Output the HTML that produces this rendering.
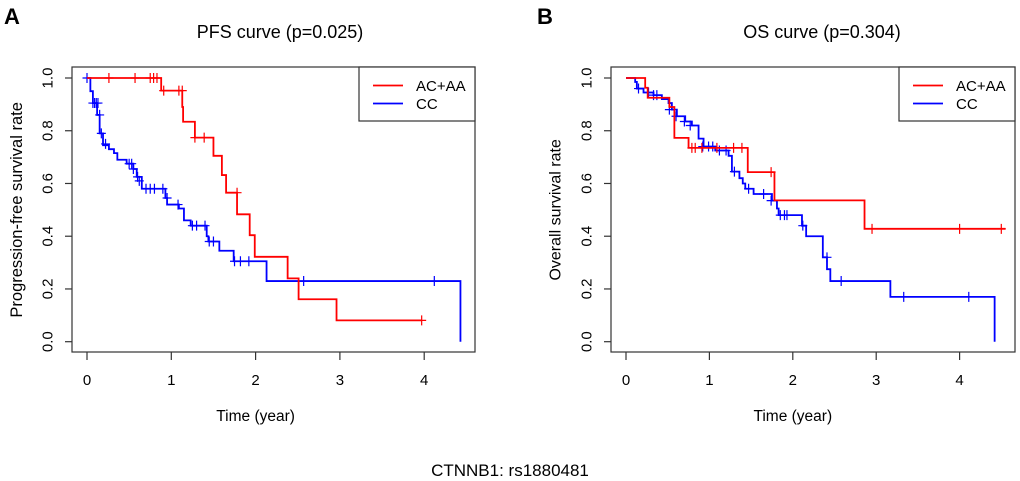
<!DOCTYPE html>
<html><head><meta charset="utf-8">
<style>
html,body{margin:0;padding:0;background:#fff;}
svg{display:block;font-family:"Liberation Sans",Arial,sans-serif;}
</style></head>
<body>
<svg id="fig" width="1020" height="481" viewBox="0 0 1020 481">
  <text x="4" y="24" font-size="22" font-weight="bold">A</text>
  <text x="537" y="24" font-size="22" font-weight="bold">B</text>
  <text x="510" y="476" font-size="17" text-anchor="middle">CTNNB1: rs1880481</text>
</svg>
<script>
// PFS panel data
var pfsRedT = [0, 0.88, 1.13, 1.14, 1.28, 1.50, 1.60, 1.65, 1.78, 1.93, 1.99, 2.38, 2.51, 2.96, 3.97];
var pfsRedS = [1, 0.952, 0.89, 0.834, 0.774, 0.705, 0.632, 0.565, 0.483, 0.404, 0.322, 0.24, 0.161, 0.081, 0.081];
var pfsRedCensT = [0.26, 0.57, 0.75, 0.79, 0.83, 0.91, 1.09, 1.13, 1.28, 1.39, 1.78, 3.97];
var pfsRedCensS = [1, 1, 1, 1, 1, 0.952, 0.952, 0.952, 0.774, 0.774, 0.565, 0.081];
var pfsBlueT = [0, 0.04, 0.07, 0.12, 0.15, 0.19, 0.26, 0.32, 0.36, 0.47, 0.55, 0.59, 0.65, 0.93, 0.95, 1.09, 1.15, 1.23, 1.42, 1.44, 1.57, 1.74, 2.13, 4.43];
var pfsBlueS = [1, 0.95, 0.905, 0.86, 0.79, 0.745, 0.73, 0.715, 0.69, 0.675, 0.655, 0.625, 0.58, 0.545, 0.52, 0.505, 0.46, 0.44, 0.40, 0.38, 0.345, 0.305, 0.23, 0];
var pfsBlueCensT = [0, 0.07, 0.09, 0.11, 0.13, 0.15, 0.17, 0.22, 0.5, 0.53, 0.55, 0.6, 0.62, 0.7, 0.75, 0.8, 0.9, 0.95, 1.08, 1.25, 1.3, 1.4, 1.45, 1.5, 1.75, 1.82, 1.92, 2.57, 4.12];
var pfsBlueCensS = [1, 0.905, 0.905, 0.905, 0.905, 0.86, 0.79, 0.75, 0.675, 0.675, 0.655, 0.625, 0.61, 0.58, 0.58, 0.58, 0.58, 0.545, 0.52, 0.44, 0.44, 0.44, 0.38, 0.38, 0.305, 0.305, 0.305, 0.23, 0.23];
// OS panel data
var osRedT = [0, 0.23, 0.26, 0.52, 0.58, 0.75, 1.46, 1.78, 2.86, 4.55];
var osRedS = [1, 0.963, 0.925, 0.89, 0.773, 0.735, 0.643, 0.536, 0.428, 0.428];
var osRedCensT = [0.79, 0.83, 0.91, 1.09, 1.29, 1.39, 1.74, 2.95, 4.0, 4.5];
var osRedCensS = [0.735, 0.735, 0.735, 0.735, 0.735, 0.735, 0.643, 0.428, 0.428, 0.428];
var osBlueT = [0, 0.11, 0.13, 0.21, 0.33, 0.43, 0.51, 0.55, 0.61, 0.71, 0.79, 0.87, 0.93, 1.07, 1.23, 1.27, 1.36, 1.40, 1.43, 1.53, 1.75, 1.81, 1.83, 2.11, 2.16, 2.36, 2.41, 2.45, 3.17, 4.42];
var osBlueS = [1, 0.985, 0.96, 0.945, 0.935, 0.92, 0.905, 0.88, 0.855, 0.835, 0.82, 0.77, 0.74, 0.725, 0.705, 0.645, 0.62, 0.6, 0.58, 0.56, 0.535, 0.505, 0.48, 0.44, 0.40, 0.32, 0.275, 0.23, 0.17, 0];
var osBlueCensT = [0.15, 0.27, 0.33, 0.37, 0.52, 0.6, 0.7, 0.77, 0.92, 0.99, 1.04, 1.12, 1.2, 1.3, 1.47, 1.65, 1.74, 1.85, 1.9, 1.93, 2.12, 2.41, 2.58, 3.33, 4.11];
var osBlueCensS = [0.96, 0.945, 0.935, 0.935, 0.88, 0.855, 0.835, 0.82, 0.74, 0.74, 0.74, 0.725, 0.725, 0.645, 0.58, 0.56, 0.535, 0.48, 0.48, 0.48, 0.44, 0.32, 0.23, 0.17, 0.17];
var xTicks = [0, 1, 2, 3, 4];
var yTicks = [0, 0.2, 0.4, 0.6, 0.8, 1.0];
var yTickLabels = ["0.0", "0.2", "0.4", "0.6", "0.8", "1.0"];
var legendLabels = ["AC+AA", "CC"];

var NS = "http://www.w3.org/2000/svg";
var svg = document.getElementById('fig');
function mk(tag, attrs, parent) {
  var e = document.createElementNS(NS, tag);
  for (var k in attrs) e.setAttribute(k, attrs[k]);
  (parent || svg).appendChild(e);
  return e;
}
function panel(p) {
  var g = mk('g', {});
  
  
  function sx(t) { return p.x0 + t * p.px; }
  function sy(s) { return p.y0 - s * (p.y0 - p.y1); }
  var box = mk('rect', {x: p.bx0, y: 67, width: p.bx1 - p.bx0, height: 285, fill: 'none', stroke: '#333', 'stroke-width': 1.2}, g);
  
  
  var t = mk('text', {x: p.tx, y: 38, 'font-size': 18, 'text-anchor': 'middle'}, g);
  t.textContent = p.title;
  
  
  var xa = mk('line', {x1: sx(0), x2: sx(4), y1: 352, y2: 352, stroke: '#333'}, g);
  
  
  xTicks.forEach(function (v) {
    var l = mk('line', {x1: sx(v), x2: sx(v), y1: 352, y2: 360, stroke: '#333', 'stroke-width': 1.2}, g);
    
    
    var tx = mk('text', {x: sx(v), y: 385, 'font-size': 15, 'text-anchor': 'middle'}, g);
    tx.textContent = String(v);
    
    
  });
  var xt = mk('text', {x: (sx(0) + sx(4)) / 2, y: 421, 'font-size': 15.5, 'text-anchor': 'middle'}, g);
  xt.textContent = 'Time (year)';
  
  
  yTicks.forEach(function (v, i) {
    var l = mk('line', {x1: p.bx0 - 7, x2: p.bx0, y1: sy(v), y2: sy(v), stroke: '#333', 'stroke-width': 1.2}, g);
    
    
    var ty = mk('text', {x: p.bx0 - 24, y: sy(v), 'font-size': 15, 'text-anchor': 'middle', 'dominant-baseline': 'central', transform: 'rotate(-90 ' + (p.bx0 - 24) + ' ' + sy(v) + ')'}, g);
    ty.textContent = yTickLabels[i];
    
    
  });
  var yc = (sy(0) + sy(1)) / 2;
  var yt = mk('text', {x: p.bx0 - 55, y: yc, 'font-size': p.yfs, 'text-anchor': 'middle', 'dominant-baseline': 'central', transform: 'rotate(-90 ' + (p.bx0 - 55) + ' ' + yc + ')'}, g);
  yt.textContent = p.ytitle;
  
  
  function curve(T, S, CT, CS, color, name) {
    var d = 'M' + sx(T[0]) + ',' + sy(S[0]);
    for (var i = 1; i < T.length; i++) {
      d += 'H' + sx(T[i]) + 'V' + sy(S[i]);
    }
    var path = mk('path', {d: d, fill: 'none', stroke: color, 'stroke-width': 1.8}, g);
    
    
    for (var j = 0; j < CT.length; j++) {
      var cx = sx(CT[j]), cy = sy(CS[j]);
      var c = mk('path', {d: 'M' + (cx - 4.5) + ',' + cy + 'H' + (cx + 4.5) + 'M' + cx + ',' + (cy - 5) + 'V' + (cy + 5), stroke: color, 'stroke-width': 1.2, fill: 'none'}, g);
      
      
    }
  }
  curve(p.bT, p.bS, p.bCT, p.bCS, '#0000ff', 'cc');
  curve(p.rT, p.rS, p.rCT, p.rCS, '#ff0000', 'ac-aa');
  var lg = mk('g', {}, g);
  
  
  mk('rect', {x: p.bx1 - 116, y: 67, width: 116, height: 54, fill: '#fff', stroke: '#333', 'stroke-width': 1.2}, lg);
  var cols = ['#ff0000', '#0000ff'];
  legendLabels.forEach(function (lab, i) {
    var y = 85.5 + i * 18;
    var ln = mk('line', {x1: p.bx1 - 102, x2: p.bx1 - 72, y1: y, y2: y, stroke: cols[i], 'stroke-width': 1.8}, lg);
    
    
    var tx = mk('text', {x: p.bx1 - 59, y: y + 5.5, 'font-size': 15}, lg);
    tx.textContent = lab;
    
    
  });
}
panel({id: 'pfs', bx0: 72, bx1: 475, x0: 87, px: 84.3, y0: 341.7, y1: 78, tx: 280, title: 'PFS curve (p=0.025)', ytitle: 'Progression-free survival rate', yfs: 16.5,
  rT: pfsRedT, rS: pfsRedS, rCT: pfsRedCensT, rCS: pfsRedCensS, bT: pfsBlueT, bS: pfsBlueS, bCT: pfsBlueCensT, bCS: pfsBlueCensS});
panel({id: 'os', bx0: 611, bx1: 1015, x0: 626, px: 83.4, y0: 341.7, y1: 78, tx: 822, title: 'OS curve (p=0.304)', ytitle: 'Overall survival rate', yfs: 16,
  rT: osRedT, rS: osRedS, rCT: osRedCensT, rCS: osRedCensS, bT: osBlueT, bS: osBlueS, bCT: osBlueCensT, bCS: osBlueCensS});
</script>
</body></html>
